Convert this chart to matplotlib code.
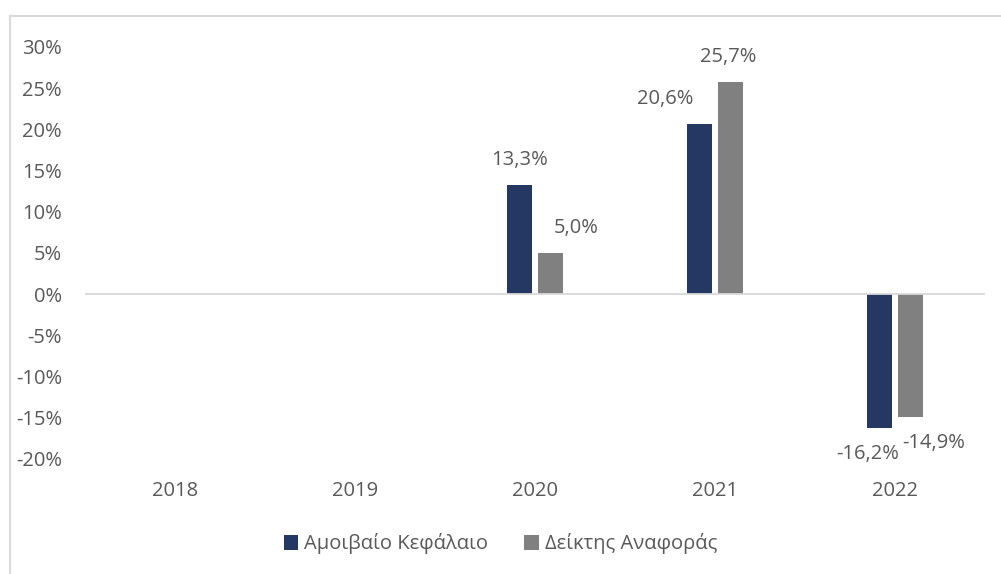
import numpy as np
import matplotlib.pyplot as plt
from matplotlib.patches import Rectangle

years = ['2018', '2019', '2020', '2021', '2022']
fund = [np.nan, np.nan, 13.3, 20.6, -16.2]
index = [np.nan, np.nan, 5.0, 25.7, -14.9]
fund_labels = [None, None, '13,3%', '20,6%', '-16,2%']
index_labels = [None, None, '5,0%', '25,7%', '-14,9%']
yticks = [-20, -15, -10, -5, 0, 5, 10, 15, 20, 25, 30]

# label offsets in pixels (x shift from bar centre), mimicking excel placement
fund_dx = [0, 0, 0, -34, -12]
index_dx = [0, 0, 26, -2, 23]

navy = '#253763'
grey = '#808080'
txt = '#595959'
fs = 14.5

plt.rcParams['font.family'] = ['Open Sans', 'DejaVu Sans']

fig = plt.figure(figsize=(10.01, 5.74), dpi=100)
ax = fig.add_axes([85 / 1001, (574 - 459) / 574, 900 / 1001, 412 / 574])

x = np.arange(len(years))
w = 0.139
off = 0.086
b1 = ax.bar(x - off, fund, w, color=navy, label='Αμοιβαίο Κεφάλαιο')
b2 = ax.bar(x + off, index, w, color=grey, label='Δείκτης Αναφοράς')

px = 0.72  # points per pixel at 100 dpi
for i in range(len(years)):
    for vals, labs, dxs, sgn in ((fund, fund_labels, fund_dx, -1), (index, index_labels, index_dx, 1)):
        v = vals[i]
        if labs[i] is None:
            continue
        dy = 25 if v >= 0 else -26
        ax.annotate(labs[i], (x[i] + sgn * off, v), xytext=(dxs[i] * px, dy * px),
                    textcoords='offset points', ha='center', va='center',
                    fontsize=fs, color=txt)

ax.axhline(0, color='#d9d9d9', lw=1.3)
ax.set_xlim(-0.5, len(years) - 0.5)
ax.set_ylim(-20, 30)
ax.set_yticks(yticks)
ax.set_yticklabels([f'{t}%' for t in yticks])
ax.set_xticks(x)
ax.set_xticklabels(years)
ax.tick_params(axis='y', length=0, pad=16.5, labelsize=fs, labelcolor=txt)
ax.tick_params(axis='x', length=0, pad=16, labelsize=fs, labelcolor=txt)
for s in ax.spines.values():
    s.set_visible(False)

fig.legend(handles=[b1, b2], loc='center', bbox_to_anchor=(0.5, 1 - 544 / 574),
           ncol=2, frameon=False, fontsize=fs, labelcolor=txt,
           handlelength=0.7, handleheight=0.7, handletextpad=0.3, columnspacing=1.8)

fig.patches.append(Rectangle((10 / 1001, -0.1), 1.2, 0.1 + (574 - 16) / 574,
                             transform=fig.transFigure, fill=False,
                             edgecolor='#d9d9d9', lw=1.5))

fig.savefig('out.png', dpi=100)
